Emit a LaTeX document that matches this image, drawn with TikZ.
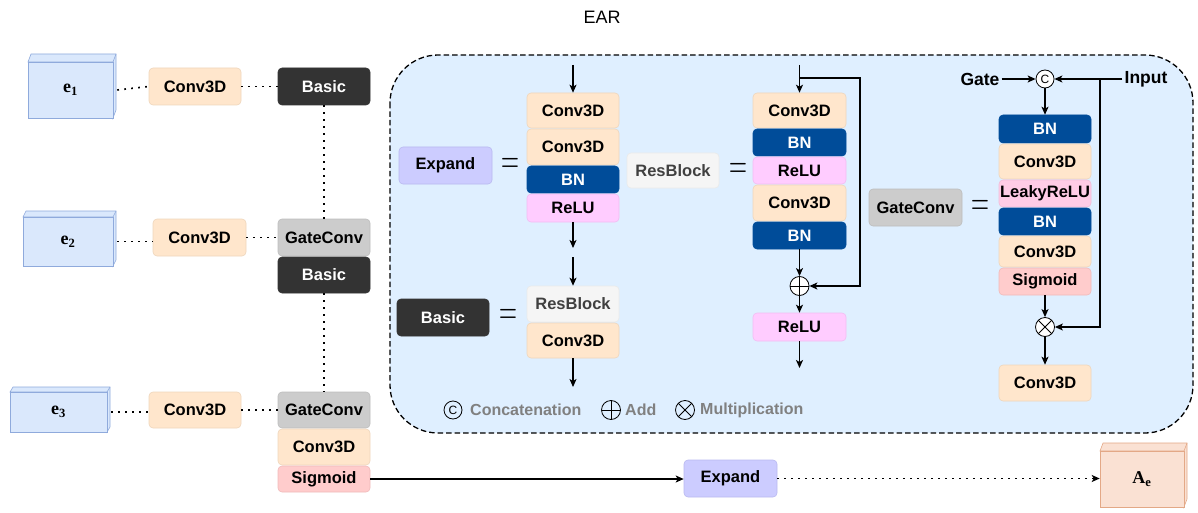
\documentclass[tikz,border=0pt]{standalone}
\usepackage{fontspec}
\setmainfont{Liberation Sans}
\newfontfamily\seriff{Liberation Serif}
\usetikzlibrary{arrows.meta,calc}
\definecolor{convF}{HTML}{FFE6CC}\definecolor{convD}{HTML}{EED6BC}
\definecolor{basicF}{HTML}{333333}
\definecolor{gateF}{HTML}{CCCCCC}\definecolor{gateD}{HTML}{BDBDBD}
\definecolor{sigF}{HTML}{FFCCCC}\definecolor{sigD}{HTML}{F0BABA}
\definecolor{bnF}{HTML}{004C99}
\definecolor{reluF}{HTML}{FFCCFF}\definecolor{reluD}{HTML}{F2BDF2}
\definecolor{lreluF}{HTML}{FFCCE6}\definecolor{lreluD}{HTML}{F2BDD8}
\definecolor{resF}{HTML}{F5F5F5}\definecolor{resD}{HTML}{EAEAEA}\definecolor{resT}{HTML}{404040}
\definecolor{expF}{HTML}{CCCCFF}\definecolor{expD}{HTML}{B9B9F0}
\definecolor{earF}{HTML}{DFEFFF}
\definecolor{cubeF}{HTML}{DAE8FC}\definecolor{cubeD}{HTML}{8FAADC}
\definecolor{aeF}{HTML}{FAE1D3}\definecolor{aeD}{HTML}{E3A886}
\definecolor{legT}{HTML}{808080}
\newcommand{\mkbox}[7]{%
  \node[#2, minimum width={(#5-#3)*1pt}, minimum height={(#6-#4)*1pt}] (#1) at ({(#3+#5)/2},{(#4+#6)/2}) {#7};}
\newcommand{\mkcube}[9]{%
  \draw[#8] ({#2},{#3}) -- ({#2+#6},{#3+#7}) -- ({#4+#6},{#3+#7}) -- ({#4+#6},{#5+#7}) -- ({#4},{#5}) -- ({#4},{#3}) -- cycle;
  \draw[#8] ({#4},{#3}) -- ({#4+#6},{#3+#7});
  \node[#8, inner sep=0, minimum width={(#4-#2)*1pt}, minimum height={(#5-#3)*1pt}] (#1) at ({(#2+#4)/2},{(#3+#5)/2}) {#9};}
\begin{document}
\begin{tikzpicture}[x=1pt,y=-1pt,
  blk/.style={rounded corners=4pt, inner sep=0pt, line width=0.6pt, font=\fontsize{16.5}{16.5}\selectfont\bfseries},
  conv/.style={blk, fill=convF, draw=convD},
  basic/.style={blk, fill=basicF, draw=basicF, text=white},
  gate/.style={blk, fill=gateF, draw=gateD},
  sig/.style={blk, fill=sigF, draw=sigD},
  bn/.style={blk, fill=bnF, draw=bnF, text=white},
  relu/.style={blk, fill=reluF, draw=reluD},
  lrelu/.style={blk, fill=lreluF, draw=lreluD},
  res/.style={blk, fill=resF, draw=resD, text=resT},
  expd/.style={blk, fill=expF, draw=expD},
  cubeb/.style={fill=cubeF, draw=cubeD, line width=0.6pt, font=\seriff\bfseries\fontsize{18}{18}\selectfont},
  cubea/.style={fill=aeF, draw=aeD, line width=0.6pt, font=\seriff\bfseries\fontsize{18}{18}\selectfont},
  arr/.style={line width=1.2pt, -{Stealth[length=8pt,width=7pt,inset=2pt]}},
  dotl/.style={line width=1.7pt, dash pattern=on 1.7pt off 5.3pt},
  eq/.style={inner sep=0pt, yscale=1.7, font=\fontsize{24}{24}\selectfont},
  addc/.style={circle, draw, line width=0.8pt, inner sep=0pt, minimum size=19pt,
    path picture={\draw[line width=0.8pt] (path picture bounding box.north) -- (path picture bounding box.south) (path picture bounding box.west) -- (path picture bounding box.east);}},
  mulc/.style={circle, draw, line width=0.8pt, inner sep=0pt, minimum size=19pt,
    path picture={\draw[line width=0.8pt] (path picture bounding box.north west) -- (path picture bounding box.south east) (path picture bounding box.south west) -- (path picture bounding box.north east);}},
  catc/.style={circle, draw, line width=0.8pt, inner sep=0pt, minimum size=18pt, font=\fontsize{12}{12}\selectfont},
  leg/.style={inner sep=0pt, anchor=west, text=legT, font=\fontsize{16}{16}\selectfont\bfseries},
  lab/.style={inner sep=2pt, font=\fontsize{17.5}{17.5}\selectfont\bfseries}
]
\useasboundingbox (0,0) rectangle (1198,513);
\node (title) at (602,17) {\fontsize{18}{18}\selectfont EAR};

% EAR dashed region
\draw[fill=earF, line width=1.3pt, dash pattern=on 5.5pt off 3pt, rounded corners=48pt] (390,55) rectangle (1193,433);

% left column
\mkcube{e1}{28}{62}{113}{118}{3}{-8}{cubeb}{e\textsubscript{1}}
\mkcube{e2}{23}{217}{113}{266}{3}{-6}{cubeb}{e\textsubscript{2}}
\mkcube{e3}{10}{392}{107}{432}{3}{-5}{cubeb}{e\textsubscript{3}}
\mkbox{c1}{conv}{149}{68}{241}{105}{Conv3D}
\mkbox{b1}{basic}{278}{68}{370}{105}{Basic}
\mkbox{c2}{conv}{153}{219}{246}{256}{Conv3D}
\mkbox{g2}{gate}{278}{219}{370}{256}{GateConv}
\mkbox{b2}{basic}{278}{257}{370}{293}{Basic}
\mkbox{c3}{conv}{149}{392}{241}{428}{Conv3D}
\mkbox{g3}{gate}{278}{392}{370}{428}{GateConv}
\mkbox{cv3}{conv}{278}{429}{370}{465}{Conv3D}
\mkbox{s3}{sig}{278}{466}{370}{492}{Sigmoid}
\mkbox{ex}{expd}{684}{460}{777}{497}{Expand}
\mkcube{ae}{1100}{451}{1184}{507}{3}{-8}{cubea}{A\textsubscript{e}}

\draw[dotl] ([xshift=4pt]e1.east) -- (c1.west);
\draw[dotl] (c1.east) -- (b1.west);
\draw[dotl] ([xshift=4pt]e2.east) -- (e2.east -| c2.west);
\draw[dotl] (c2.east) -- (g2.west);
\draw[dotl] ([xshift=4pt]e3.east) -- (e3.east -| c3.west);
\draw[dotl] (c3.east) -- (g3.west);
\draw[dotl] (b1.south) -- (g2.north);
\draw[dotl] (b2.south) -- (g3.north);
\draw[arr] (s3.east) -- (s3.east -| ex.west);
\draw[dotl, -{Stealth[length=8pt,width=7pt,inset=2pt]}] (ex.east) -- (ex.east -| ae.west);

% Expand / Basic definitions
\mkbox{exl}{expd}{399}{147}{492}{184}{Expand}
\node[eq] (eq1) at (510,166) {$=$};
\mkbox{bal}{basic}{397}{299}{489}{336}{Basic}
\node[eq] (eq2) at (508,317) {$=$};
\coordinate (ein) at (573,65);
\mkbox{ea1}{conv}{527}{93}{619}{128}{Conv3D}
\mkbox{ea2}{conv}{527}{129}{619}{165}{Conv3D}
\mkbox{ea3}{bn}{527}{166}{619}{193}{BN}
\mkbox{ea4}{relu}{527}{194}{619}{222}{ReLU}
\coordinate (eout) at (573,248);
\coordinate (bin) at (573,257);
\mkbox{ba1}{res}{527}{286}{619}{322}{ResBlock}
\mkbox{ba2}{conv}{527}{323}{619}{358}{Conv3D}
\coordinate (bout) at (573,387);
\draw[arr] (ein) -- (ea1.north);
\draw[arr] (ea4.south) -- (eout);
\draw[arr] (bin) -- (ba1.north);
\draw[arr] (ba2.south) -- (bout);

% ResBlock definition
\mkbox{rbl}{res}{627}{153}{719}{188}{ResBlock}
\node[eq] (eq3) at (738,171) {$=$};
\coordinate (rin) at (799.5,65);
\coordinate (rj) at (799.5,78);
\coordinate (rr) at (860,78);
\mkbox{rb1}{conv}{753}{93}{846}{128}{Conv3D}
\mkbox{rb2}{bn}{753}{129}{846}{156}{BN}
\mkbox{rb3}{relu}{753}{157}{846}{184}{ReLU}
\mkbox{rb4}{conv}{753}{185}{846}{221}{Conv3D}
\mkbox{rb5}{bn}{753}{222}{846}{249}{BN}
\node[addc, fill=white] (add) at (799.5,286) {};
\mkbox{rb6}{relu}{753}{313}{846}{341}{ReLU}
\coordinate (rout) at (799.5,368);
\draw[arr] (rin) -- (rb1.north);
\draw[arr] (rj) -- (rr) |- (add.east);
\draw[arr] (rb5.south) -- (add.north);
\draw[arr] (add.south) -- (rb6.north);
\draw[arr] (rb6.south) -- (rout);

% GateConv definition
\mkbox{gcl}{gate}{869}{189}{962}{226}{GateConv}
\node[eq] (eq4) at (980,208) {$=$};
\node[catc, fill=white] (cc) at (1045,79) {C};
\node[lab] (gatet) at (980,79) {Gate};
\node[lab] (inpt) at (1146,79) {Input};
\coordinate (gj) at (1100,79);
\mkbox{gc1}{bn}{999}{115}{1091}{143}{BN}
\mkbox{gc2}{conv}{999}{144}{1091}{179}{Conv3D}
\mkbox{gc3}{lrelu}{999}{180}{1091}{207}{LeakyReLU}
\mkbox{gc4}{bn}{999}{208}{1091}{235}{BN}
\mkbox{gc5}{conv}{999}{236}{1091}{267}{Conv3D}
\mkbox{gc6}{sig}{999}{268}{1091}{295}{Sigmoid}
\node[mulc, fill=white] (mul) at (1045,327) {};
\mkbox{gc7}{conv}{999}{365}{1091}{401}{Conv3D}
\draw[arr] (gatet.east) -- (cc.west);
\draw[arr] (inpt.west) -- (cc.east);
\draw[arr] (gj) |- (mul.east);
\draw[arr] (cc.south) -- (gc1.north);
\draw[arr] (gc6.south) -- (mul.north);
\draw[arr] (mul.south) -- (gc7.north);

% legend
\node[catc] (lc) at (453,410) {C};
\node[leg] (lct) at (470,410) {Concatenation};
\node[addc] (la) at (611,410) {};
\node[leg] (lat) at (625,410) {Add};
\node[mulc] (lm) at (685,410) {};
\node[leg] (lmt) at (700,410) {Multiplication};
\end{tikzpicture}
\end{document}
